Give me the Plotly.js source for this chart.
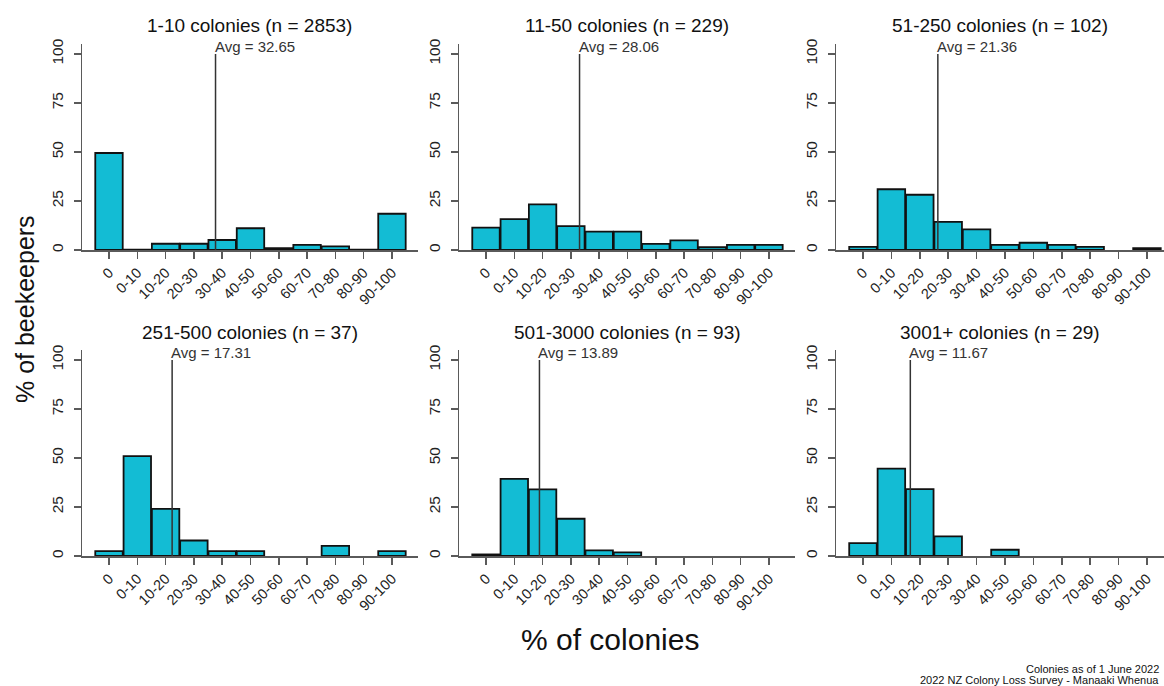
<!DOCTYPE html>
<html>
<head>
<meta charset="utf-8">
<script src="https://cdn.plot.ly/plotly-3.0.1.min.js"></script>
<style>html,body{margin:0;padding:0;background:#fff;}#chart{width:1164px;height:686px;}</style>
</head>
<body>
<div id="chart"></div>
<script>
// ---- data ----
const categories = ["0","0-10","10-20","20-30","30-40","40-50","50-60","60-70","70-80","80-90","90-100"];
const panelTitles = ["1-10 colonies (n = 2853)","11-50 colonies (n = 229)","51-250 colonies (n = 102)",
                     "251-500 colonies (n = 37)","501-3000 colonies (n = 93)","3001+ colonies (n = 29)"];
const pct_1_10      = [49.5, 0.2, 3.2, 3.2, 5.1, 11.1, 0.9, 2.6, 1.9, 0.2, 18.5];
const pct_11_50     = [11.4, 15.8, 23.3, 12.2, 9.4, 9.4, 3.1, 4.9, 1.4, 2.6, 2.6];
const pct_51_250    = [1.6, 31.0, 28.2, 14.3, 10.5, 2.6, 3.7, 2.6, 1.6, 0, 0.9];
const pct_251_500   = [2.5, 51.0, 24.0, 7.9, 2.5, 2.5, 0, 0, 5.2, 0, 2.5];
const pct_501_3000  = [0.8, 39.4, 34.0, 19.0, 2.9, 1.9, 0, 0, 0, 0, 0];
const pct_3001_plus = [6.6, 44.6, 34.1, 10.0, 0, 3.2, 0, 0, 0, 0, 0];
const averages = [32.65, 28.06, 21.36, 17.31, 13.89, 11.67];
const series = [pct_1_10, pct_11_50, pct_51_250, pct_251_500, pct_501_3000, pct_3001_plus];

// ---- layout geometry ----
const W = 1164, H = 686;
const colPx = [[82, 418], [459, 795], [836, 1164]];
const xRanges = [[-0.954, 10.92], [-0.954, 10.92], [-0.95, 10.6]];
const rowPx = [[44.2, 250], [350.2, 556]]; // top, bottom (y=105 .. y=0)
const titleY = [25, 333];
const FONT = "Liberation Sans, Arial, Helvetica, sans-serif";
const BAR = "#13BCD4";
const AXC = "#5a5a5a";

const traces = [];
const layout = {
  width: W, height: H,
  margin: {l: 0, r: 0, t: 0, b: 0},
  paper_bgcolor: "#fff", plot_bgcolor: "#fff",
  showlegend: false,
  font: {family: FONT, color: "#222"},
  bargap: 0.03,
  annotations: [], shapes: []
};

// avg value (percent of colonies) -> position on the category axis
function avgToCat(v) { return v / 10 + 0.5; }

series.forEach((vals, i) => {
  const r = Math.floor(i / 3), c = i % 3;
  const k = i === 0 ? "" : String(i + 1);
  const xa = "x" + k, ya = "y" + k;
  traces.push({
    type: "bar", x: categories, y: vals, xaxis: xa, yaxis: ya,
    marker: {color: BAR, line: {color: "#111", width: vals.map(v => v > 0 ? 1.8 : 0)}},
    hoverinfo: "x+y", cliponaxis: false
  });
  layout["xaxis" + k] = {
    domain: [colPx[c][0] / W, colPx[c][1] / W],
    anchor: ya, type: "category", range: xRanges[c],
    showline: true, linecolor: AXC, linewidth: 1.5,
    ticks: "outside", ticklen: 7, tickcolor: AXC, tickwidth: 1.5,
    tickangle: -45, tickfont: {size: 14.5, color: "#222", family: FONT},
    showgrid: false, zeroline: false, fixedrange: true
  };
  layout["yaxis" + k] = {
    domain: [1 - rowPx[r][1] / H, 1 - rowPx[r][0] / H],
    anchor: xa, range: [0, 105],
    tickvals: [0, 25, 50, 75, 100],
    showline: true, linecolor: AXC, linewidth: 1.5,
    ticks: "outside", ticklen: 7, tickcolor: AXC, tickwidth: 1.5,
    tickangle: -90, ticklabelstandoff: 4,
    tickfont: {size: 15.5, color: "#222", family: FONT},
    showgrid: false, zeroline: false, fixedrange: true
  };
  // panel title
  layout.annotations.push({
    xref: "paper", yref: "paper",
    x: (colPx[c][0] + colPx[c][1]) / 2 / W, y: 1 - titleY[r] / H,
    xanchor: "center", yanchor: "middle", showarrow: false,
    text: panelTitles[i], font: {size: 19, color: "#111", family: FONT}
  });
  // average line
  const ax = avgToCat(averages[i]);
  layout.shapes.push({
    type: "line", xref: xa, yref: ya, x0: ax, x1: ax, y0: 0, y1: 100,
    line: {color: "#333", width: 1.5}
  });
  layout.annotations.push({
    xref: xa, yref: ya, x: ax, y: 104, xanchor: "left", yanchor: "middle",
    xshift: -3, showarrow: false, text: "Avg = " + averages[i].toFixed(2),
    font: {size: 15, color: "#333", family: FONT}
  });
});

// global axis titles
layout.annotations.push({
  xref: "paper", yref: "paper", x: 25 / W, y: 1 - 309 / H,
  xanchor: "center", yanchor: "middle", textangle: -90, showarrow: false,
  text: "% of beekeepers", font: {size: 25, color: "#111", family: FONT}
});
layout.annotations.push({
  xref: "paper", yref: "paper", x: 610 / W, y: 1 - 639 / H,
  xanchor: "center", yanchor: "middle", showarrow: false,
  text: "% of colonies", font: {size: 30, color: "#111", family: FONT}
});
// footer notes
layout.annotations.push({
  xref: "paper", yref: "paper", x: 1161 / W, y: 1 - 669 / H,
  xanchor: "right", yanchor: "middle", showarrow: false,
  text: "Colonies as of 1 June 2022", font: {size: 11, color: "#111", family: FONT}
});
layout.annotations.push({
  xref: "paper", yref: "paper", x: 1161 / W, y: 1 - 680 / H,
  xanchor: "right", yanchor: "middle", showarrow: false,
  text: "2022 NZ Colony Loss Survey - Manaaki Whenua", font: {size: 11, color: "#111", family: FONT}
});

Plotly.newPlot("chart", traces, layout, {displayModeBar: false, staticPlot: true});
</script>
</body>
</html>
